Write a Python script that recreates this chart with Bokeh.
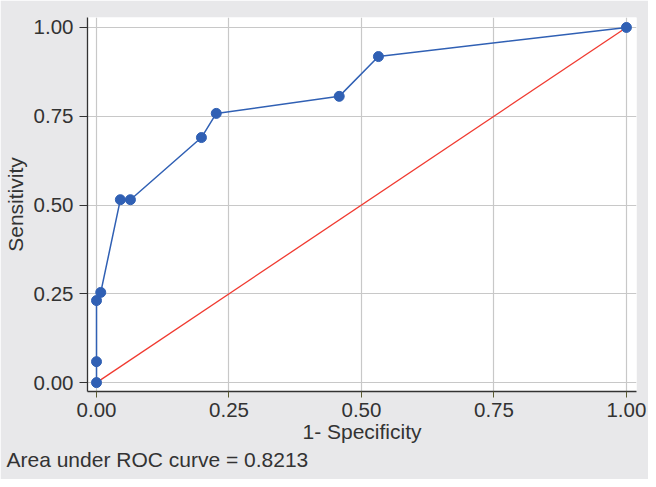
from bokeh.plotting import figure
from bokeh.models import Range1d, FixedTicker, Title
from bokeh.embed import file_html
from bokeh.resources import INLINE

# ROC curve points (1 - specificity, sensitivity)
fpr = [0.0, 0.0, 0.0, 0.008, 0.045, 0.064, 0.198, 0.226, 0.458, 0.532, 1.0]
sens = [0.0, 0.059, 0.231, 0.254, 0.515, 0.515, 0.690, 0.758, 0.806, 0.918, 1.0]
# reference (chance) line
ref_x = [0.0, 1.0]
ref_y = [0.0, 1.0]
ticks = [0.0, 0.25, 0.5, 0.75, 1.0]
tick_labels = ["0.00", "0.25", "0.50", "0.75", "1.00"]
x_label = "1- Specificity"
y_label = "Sensitivity"
auc_text = "Area under ROC curve = 0.8213"

FONT = "Liberation Sans"
TXT = "#333333"
BG = "#e8e8ea"

p = figure(width=648, height=479, output_backend="svg", toolbar_location=None,
           x_range=Range1d(-0.017, 1.019), y_range=Range1d(-0.025, 1.028),
           min_border_left=87, min_border_right=12, min_border_top=17, min_border_bottom=88)
p.border_fill_color = BG
p.background_fill_color = "white"
p.outline_line_color = None

for ax in (p.xaxis[0], p.yaxis[0]):
    ax.ticker = FixedTicker(ticks=ticks)
    ax.major_label_overrides = {t: l for t, l in zip(ticks, tick_labels)}
    ax.minor_tick_line_color = None
    ax.axis_line_color = "#333333"
    ax.axis_line_width = 1.3
    ax.major_label_text_font = FONT
    ax.major_label_text_font_size = "20.5px"
    ax.major_label_text_color = TXT
    ax.axis_label_text_font = FONT
    ax.axis_label_text_font_size = "21px"
    ax.axis_label_text_font_style = "normal"
    ax.axis_label_text_color = TXT

p.xaxis.axis_label = x_label
p.yaxis.axis_label = y_label
p.xaxis.major_tick_in = 0
p.xaxis.major_tick_out = 6
p.xaxis.major_tick_line_color = "#5a5a30"
p.xaxis.major_label_standoff = 5
p.xaxis.axis_label_standoff = 0
p.yaxis.major_tick_in = 0
p.yaxis.major_tick_out = 8
p.yaxis.major_tick_line_color = "#333333"
p.yaxis.major_label_standoff = 6
p.yaxis.major_label_orientation = "horizontal"
p.yaxis.axis_label_standoff = 4

for g in (p.xgrid[0], p.ygrid[0]):
    g.ticker = FixedTicker(ticks=ticks)
    g.grid_line_color = "#c8c8c8"
    g.grid_line_width = 1.2

p.line(ref_x, ref_y, line_color="#f03a30", line_width=1.3)
p.line(fpr, sens, line_color="#3060b4", line_width=1.5)
p.scatter(fpr, sens, size=10, fill_color="#3060b4", line_color="#3060b4")

p.add_layout(Title(text=auc_text, align="left", text_font=FONT, text_font_size="21px",
                   text_font_style="normal", text_color=TXT, offset=-81, standoff=0), "below")

open("out.html", "w").write(file_html(p, INLINE))
